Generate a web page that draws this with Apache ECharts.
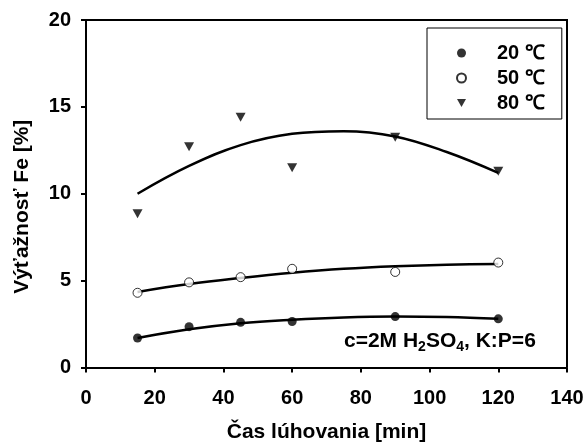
<!DOCTYPE html>
<html>
<head>
<meta charset="utf-8">
<script src="https://cdn.jsdelivr.net/npm/echarts@6/dist/echarts.min.js"></script>
<style>
  html, body { margin: 0; padding: 0; background: #fff; }
  #chart { width: 588px; height: 448px; }
</style>
</head>
<body>
<div id="chart"></div>
<script>
// namerane body
const times = [15, 30, 45, 60, 90, 120]
const t20 = [1.7, 2.35, 2.6, 2.65, 2.93, 2.8]
const t50 = [4.3, 4.9, 5.2, 5.68, 5.5, 6.04]
const t80 = [8.85, 12.7, 14.4, 11.5, 13.25, 11.3]

// prelozene krivky (odcitane z grafu)
const fitTimes = [15, 30, 45, 60, 75, 90, 105, 120]
const fit20 = [1.7, 2.2, 2.55, 2.75, 2.88, 2.93, 2.9, 2.8]
const fit50 = [4.35, 4.8, 5.15, 5.45, 5.68, 5.83, 5.92, 5.95]
const fit80 = [10.0, 11.6, 12.8, 13.45, 13.6, 13.3, 12.4, 11.2]

const xTicks = [0, 20, 40, 60, 80, 100, 120, 140]
const yTicks = [0, 5, 10, 15, 20]

const font = '"Liberation Sans", Arial, sans-serif'
const pair = (xs, ys) => xs.map((x, i) => [x, ys[i]])

const triangle = 'path://M0,0 L10,0 L5,9 Z'

const chart = echarts.init(document.getElementById('chart'))

function fitLine (name, ys) {
    return {
        name: name,
        type: 'line',
        data: pair(fitTimes, ys),
        smooth: 0.4,
        showSymbol: false,
        silent: true,
        lineStyle: { color: '#000', width: 2.5 },
        z: 2
    }
}

chart.setOption({
    animation: false,
    backgroundColor: '#fff',
    textStyle: { fontFamily: font },
    grid: { left: 86, right: 21, top: 20, bottom: 80.5 },
    legend: {
        orient: 'vertical',
        left: 427,
        top: 28,
        padding: [15, 17, 6, 29],
        itemGap: 5,
        itemWidth: 9,
        itemHeight: 9,
        borderColor: '#000',
        borderWidth: 1,
        data: ['20 ℃', '50 ℃', '80 ℃'],
        textStyle: { fontFamily: font, fontWeight: 'bold', fontSize: 20, color: '#000', padding: [0, 0, 0, 26] }
    },
    xAxis: {
        type: 'value',
        min: 0,
        max: 140,
        interval: 20,
        name: 'Čas lúhovania [min]',
        nameLocation: 'middle',
        nameGap: 54,
        nameTextStyle: { fontFamily: font, fontWeight: 'bold', fontSize: 21, color: '#000' },
        axisLine: { lineStyle: { color: '#000', width: 2 } },
        axisTick: { show: true, length: 5, lineStyle: { color: '#000', width: 2 } },
        axisLabel: {
            margin: 21, fontFamily: font, fontWeight: 'bold', fontSize: 20, color: '#000',
            formatter: v => xTicks.includes(v) ? String(v) : ''
        },
        splitLine: { show: false }
    },
    yAxis: {
        type: 'value',
        min: 0,
        max: 20,
        interval: 5,
        name: 'Výťažnosť Fe [%]',
        nameLocation: 'middle',
        nameGap: 53,
        nameTextStyle: { fontFamily: font, fontWeight: 'bold', fontSize: 21, color: '#000', padding: [0, 26, 0, 0] },
        axisLine: { show: true, lineStyle: { color: '#000', width: 2 } },
        axisTick: { show: true, length: 5, lineStyle: { color: '#000', width: 2 } },
        axisLabel: {
            margin: 15, fontFamily: font, fontWeight: 'bold', fontSize: 20, color: '#000',
            formatter: v => yTicks.includes(v) ? String(v) : ''
        },
        splitLine: { show: false }
    },
    graphic: [
        {
            // ramcek grafu (horna a prava os)
            type: 'polyline',
            shape: { points: [[86, 20], [567, 20], [567, 367.5]] },
            style: { stroke: '#000', lineWidth: 2, fill: null },
            silent: true
        },
        {
            type: 'text',
            left: 344,
            top: 331,
            style: {
                text: '{n|c=2M H}{s|2}{n|SO}{s|4}{n|, K:P=6}',
                rich: {
                    n: { fontFamily: font, fontWeight: 'bold', fontSize: 21, fill: '#000' },
                    s: { fontFamily: font, fontWeight: 'bold', fontSize: 14, fill: '#000', padding: [12, 0, 0, 0] }
                }
            }
        }
    ],
    series: [
        fitLine('fit20', fit20),
        fitLine('fit50', fit50),
        fitLine('fit80', fit80),
        {
            name: '20 ℃',
            type: 'scatter',
            data: pair(times, t20),
            symbol: 'circle',
            symbolSize: 9,
            itemStyle: { color: '#000' },
            z: 3
        },
        {
            name: '50 ℃',
            type: 'scatter',
            data: pair(times, t50),
            symbol: 'circle',
            symbolSize: 9,
            itemStyle: { color: '#fff', borderColor: '#000', borderWidth: 1 },
            z: 3
        },
        {
            name: '80 ℃',
            type: 'scatter',
            data: pair(times, t80),
            symbol: triangle,
            symbolSize: [10, 9],
            itemStyle: { color: '#000' },
            z: 3
        }
    ]
})
</script>
</body>
</html>
